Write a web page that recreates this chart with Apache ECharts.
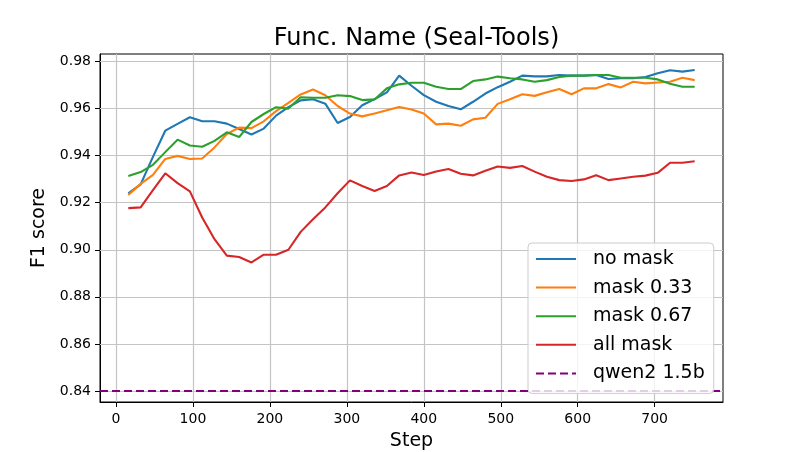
<!DOCTYPE html>
<html>
<head>
<meta charset="utf-8">
<script src="https://cdn.jsdelivr.net/npm/echarts@6/dist/echarts.min.js"></script>
<style>
html,body{margin:0;padding:0;background:#fff;}
#chart{width:803px;height:452px;}
</style>
</head>
<body>
<div id="chart"></div>
<script>
const titleText = 'Func. Name (Seal-Tools)';
const xName = 'Step';
const yName = 'F1 score';
const seriesNames = ['no mask', 'mask 0.33', 'mask 0.67', 'all mask', 'qwen2 1.5b'];
const xTicks = [0, 100, 200, 300, 400, 500, 600, 700];
const yTicks = [0.84, 0.86, 0.88, 0.90, 0.92, 0.94, 0.96, 0.98];

const steps = [16, 32, 48, 64, 80, 96, 112, 128, 144, 160, 176, 192, 208, 224, 240, 256,
  272, 288, 304, 320, 336, 352, 368, 384, 400, 416, 432, 448, 464, 480, 496, 512,
  528, 544, 560, 576, 592, 608, 624, 640, 656, 672, 688, 704, 720, 736, 752];

const noMask = [0.9240, 0.9278, 0.9395, 0.9506, 0.9535, 0.9563, 0.9546, 0.9546, 0.9536, 0.9513,
  0.9490, 0.9515, 0.9570, 0.9606, 0.9635, 0.9640, 0.9621, 0.9539, 0.9564, 0.9614,
  0.9640, 0.9669, 0.9740, 0.9697, 0.9657, 0.9629, 0.9611, 0.9597, 0.9629, 0.9664,
  0.9691, 0.9714, 0.9740, 0.9737, 0.9737, 0.9743, 0.9740, 0.9740, 0.9743, 0.9726,
  0.9729, 0.9729, 0.9734, 0.9750, 0.9763, 0.9757, 0.9764];

const mask033 = [0.9233, 0.9280, 0.9318, 0.9386, 0.9399, 0.9386, 0.9388, 0.9435, 0.9492, 0.9519,
  0.9517, 0.9546, 0.9589, 0.9624, 0.9660, 0.9681, 0.9657, 0.9611, 0.9579, 0.9567,
  0.9579, 0.9593, 0.9607, 0.9596, 0.9579, 0.9533, 0.9536, 0.9527, 0.9554, 0.9561,
  0.9620, 0.9640, 0.9661, 0.9654, 0.9669, 0.9683, 0.9661, 0.9686, 0.9686, 0.9704,
  0.9690, 0.9714, 0.9707, 0.9711, 0.9714, 0.9731, 0.9721];

const mask067 = [0.9314, 0.9330, 0.9361, 0.9415, 0.9468, 0.9443, 0.9438, 0.9463, 0.9499, 0.9479,
  0.9543, 0.9577, 0.9606, 0.9600, 0.9648, 0.9646, 0.9646, 0.9657, 0.9653, 0.9636,
  0.9639, 0.9686, 0.9703, 0.9710, 0.9710, 0.9693, 0.9683, 0.9683, 0.9717, 0.9724,
  0.9736, 0.9729, 0.9724, 0.9714, 0.9721, 0.9734, 0.9740, 0.9740, 0.9743, 0.9743,
  0.9731, 0.9731, 0.9731, 0.9724, 0.9706, 0.9693, 0.9693];

const allMask = [0.9177, 0.9180, 0.9253, 0.9325, 0.9283, 0.9248, 0.9137, 0.9045, 0.8975, 0.8969,
  0.8946, 0.8979, 0.8979, 0.9000, 0.9076, 0.9130, 0.9180, 0.9240, 0.9295, 0.9271,
  0.9250, 0.9271, 0.9316, 0.9328, 0.9318, 0.9333, 0.9343, 0.9323, 0.9316, 0.9336,
  0.9354, 0.9348, 0.9356, 0.9332, 0.9310, 0.9296, 0.9292, 0.9299, 0.9317, 0.9296,
  0.9303, 0.9310, 0.9315, 0.9327, 0.9370, 0.9370, 0.9376];

const qwenBaseline = 0.8422;

const colors = ['#1f77b4', '#ff7f0e', '#2ca02c', '#d62728', '#800080'];
const FONT = 'DejaVu Sans';
const GRID_COLOR = '#c4c4c4';

function pairs(vals) { return steps.map((s, i) => [s, vals[i]]); }

function lineSeries(name, vals, color) {
  return {
    name: name, type: 'line', data: pairs(vals), symbol: 'none',
    lineStyle: { color: color, width: 2.1 }, itemStyle: { color: color },
    z: 3
  };
}

// grid lines drawn at the tick values
const gridLineData = xTicks.map(v => ({ xAxis: v })).concat(yTicks.map(v => ({ yAxis: v })));

const chart = echarts.init(document.getElementById('chart'), null, { renderer: 'canvas' });
chart.setOption({
  animation: false,
  backgroundColor: '#ffffff',
  title: {
    text: titleText, left: 411.5, top: 22, textAlign: 'center',
    textStyle: { fontFamily: FONT, fontSize: 24, fontWeight: 'normal', color: '#000' }
  },
  grid: {
    left: 100, right: 80, top: 54, bottom: 50,
    containLabel: false, outerBoundsMode: 'none',
    show: true, borderColor: '#000', borderWidth: 1, backgroundColor: 'transparent'
  },
  legend: {
    orient: 'vertical', left: 528, top: 243,
    itemWidth: 40, itemHeight: 14, itemGap: 6.6,
    padding: [5, 9, 9, 7],
    backgroundColor: 'rgba(255,255,255,0.8)', borderColor: '#cccccc', borderWidth: 1, borderRadius: 4,
    itemStyle: { opacity: 0 },
    textStyle: { fontFamily: FONT, fontSize: 19, color: '#000', lineHeight: 22, padding: [0, 0, 0, 12] },
    data: seriesNames,
    z: 10
  },
  xAxis: {
    type: 'value', min: -20.8, max: 788.8, splitNumber: 8,
    name: xName, nameLocation: 'middle', nameGap: 30,
    nameTextStyle: { fontFamily: FONT, fontSize: 19, color: '#000' },
    axisLine: { show: true, onZero: false, lineStyle: { color: '#000', width: 1 } },
    axisTick: { show: true, length: 5, lineStyle: { color: '#000' }, customValues: xTicks },
    axisLabel: { fontFamily: FONT, fontSize: 14, color: '#000', margin: 10, customValues: xTicks },
    splitLine: { show: false }
  },
  yAxis: {
    type: 'value', min: 0.8353, max: 0.9832, splitNumber: 7,
    name: yName, nameLocation: 'middle', nameGap: 43, nameRotate: 90,
    nameTextStyle: { fontFamily: FONT, fontSize: 19, color: '#000' },
    axisLine: { show: true, onZero: false, lineStyle: { color: '#000', width: 1 } },
    axisTick: { show: true, length: 5, lineStyle: { color: '#000' }, customValues: yTicks },
    axisLabel: { fontFamily: FONT, fontSize: 14, color: '#000', margin: 9, customValues: yTicks,
      formatter: v => v.toFixed(2) },
    splitLine: { show: false }
  },
  series: [
    {
      name: '__grid', type: 'line', data: [], silent: true, z: 1,
      markLine: {
        silent: true, symbol: ['none', 'none'], label: { show: false },
        lineStyle: { color: GRID_COLOR, width: 1.2, type: 'solid' },
        data: gridLineData, z: 1
      }
    },
    lineSeries(seriesNames[0], noMask, colors[0]),
    lineSeries(seriesNames[1], mask033, colors[1]),
    lineSeries(seriesNames[2], mask067, colors[2]),
    lineSeries(seriesNames[3], allMask, colors[3]),
    {
      name: seriesNames[4], type: 'line', data: [], symbol: 'none',
      lineStyle: { color: colors[4], width: 2.1, type: [8, 4] }, itemStyle: { color: colors[4] },
      markLine: {
        silent: true, symbol: ['none', 'none'], label: { show: false },
        lineStyle: { color: colors[4], width: 2.1, type: [8, 4] },
        data: [{ yAxis: qwenBaseline }]
      }
    }
  ]
});
</script>
</body>
</html>
